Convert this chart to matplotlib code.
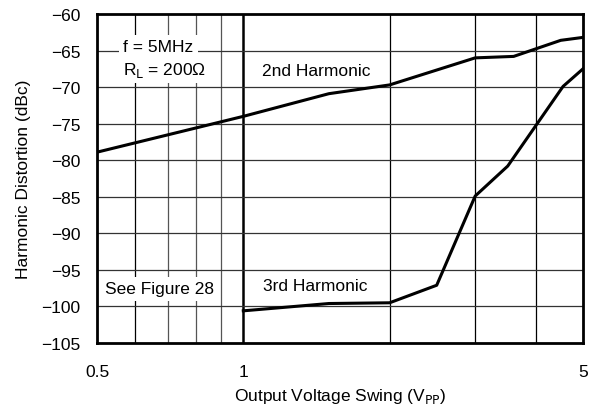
import matplotlib.pyplot as plt
from matplotlib.ticker import FixedLocator, NullFormatter, FixedFormatter

plt.rcParams['font.family'] = ['Liberation Sans', 'DejaVu Sans']

# 2nd harmonic
x2 = [0.5, 1.0, 1.5, 2.0, 3.0, 3.6, 4.5, 5.0]
y2 = [-78.9, -74.0, -70.9, -69.7, -66.0, -65.8, -63.6, -63.2]

# 3rd harmonic
x3 = [1.0, 1.5, 2.0, 2.5, 3.0, 3.5, 4.55, 5.0]
y3 = [-100.6, -99.6, -99.5, -97.1, -84.9, -80.8, -69.9, -67.5]

xticks = [0.5, 1, 5]
xtick_labels = ['0.5', '1', '5']
yticks = list(range(-105, -59, 5))

fs = 12.5

fig = plt.figure(figsize=(5.91, 4.10), dpi=100)
ax = fig.add_axes([97/591, 1 - 344/410, 486/591, 329/410])

ax.set_xscale('log')
ax.set_xlim(0.5, 5)
ax.set_ylim(-105, -60)

# grid
for gx in [0.6, 2, 3, 4]:
    ax.axvline(gx, color='black', lw=0.9, zorder=1)
for gx in [0.7, 0.8, 0.9]:
    ax.axvline(gx, color='#555555', lw=0.9, zorder=1)
ax.axvline(1, color='black', lw=1.8, zorder=1)
for gy in yticks[1:-1]:
    ax.axhline(gy, color='#333333', lw=0.9, zorder=1)

ax.plot(x2, y2, color='black', lw=2.2, zorder=3)
ax.plot(x3, y3, color='black', lw=2.2, zorder=3)

ax.xaxis.set_major_locator(FixedLocator(xticks))
ax.xaxis.set_major_formatter(FixedFormatter(xtick_labels))
ax.xaxis.set_minor_locator(FixedLocator([]))
ax.xaxis.set_minor_formatter(NullFormatter())
ax.set_yticks(yticks)
ax.set_yticklabels(['\u2212%d' % (-v) for v in yticks])
ax.tick_params(length=0, labelsize=fs)
ax.tick_params(axis='x', pad=15)
ax.tick_params(axis='y', pad=12)

for s in ax.spines.values():
    s.set_linewidth(2)

ax.set_xlabel('Output Voltage Swing (V$_{\\mathrm{PP}}$)', fontsize=fs, labelpad=5)
ax.set_ylabel('Harmonic Distortion (dBc)', fontsize=fs, labelpad=7)

box = dict(facecolor='white', edgecolor='none', pad=3)
ax.text(0.566, -64.4, 'f = 5MHz', fontsize=fs, va='center', bbox=box, zorder=4)
ax.text(0.566, -67.6, 'R$_{\\mathrm{L}}$ = 200\u03a9', fontsize=fs, va='center', bbox=box, zorder=4)
ax.text(1.094, -67.7, '2nd Harmonic', fontsize=fs, va='center', bbox=box, zorder=4)
ax.text(0.519, -97.6, 'See Figure 28', fontsize=fs, va='center', bbox=box, zorder=4)
ax.text(1.10, -97.2, '3rd Harmonic', fontsize=fs, va='center', bbox=box, zorder=4)

fig.savefig('out.png', dpi=100)
